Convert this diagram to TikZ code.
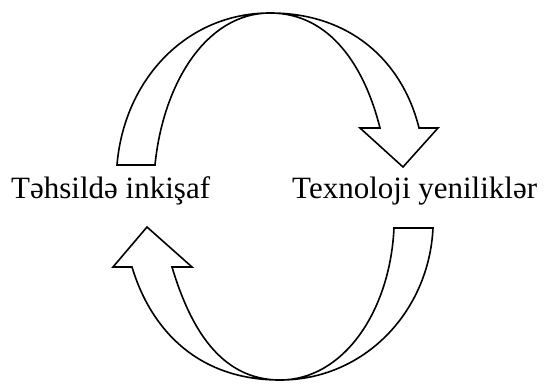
\documentclass[tikz,border=0pt]{standalone}
\usepackage{fontspec}
\setmainfont{Liberation Serif}
\begin{document}
\begin{tikzpicture}[x=1pt,y=-1pt,
  arrowshape/.style={draw=black,fill=white,line width=1.6pt,line join=miter},
  label/.style={font=\fontsize{31}{36}\selectfont,inner sep=0pt,anchor=base west}]
\useasboundingbox (0,0) rectangle (546,383);
% top arrow
\draw[arrowshape] (117,165) -- (155,165)
  .. controls (163,84) and (206,13) .. (270,13)
  .. controls (331,13) and (365,68) .. (380,128)
  -- (360,128) -- (403,167) -- (438,128) -- (419,128)
  .. controls (403,63) and (352,13) .. (270,13)
  .. controls (186,13) and (124,80) .. (117,165) -- cycle;
% bottom arrow
\draw[arrowshape] (394,228) -- (433,228)
  .. controls (429,312) and (364,380) .. (280,380)
  .. controls (198,380) and (151,330) .. (132,267)
  -- (113,267) -- (147,227) -- (192,267) -- (172,267)
  .. controls (190,327) and (220,380) .. (280,380)
  .. controls (343,380) and (390,312) .. (394,228) -- cycle;
\node[label] (left) at (11,198) {Təhsildə inkişaf};
\node[label] (right) at (292,198) {Texnoloji yeniliklər};
\end{tikzpicture}
\end{document}
